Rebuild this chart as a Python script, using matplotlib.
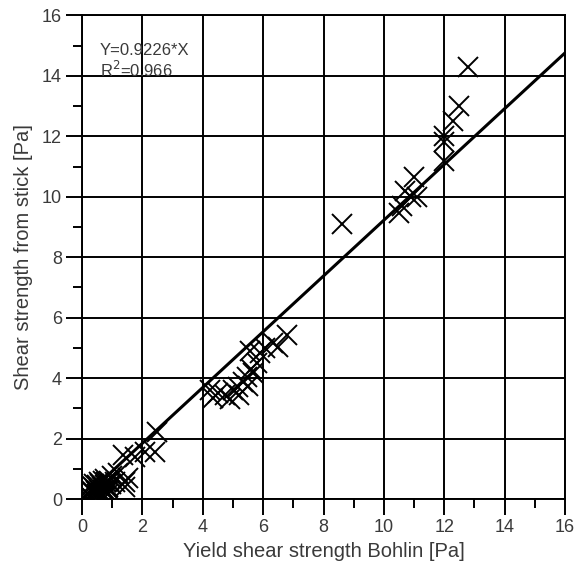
import numpy as np
import matplotlib.pyplot as plt
from matplotlib.ticker import MultipleLocator

# Yield shear strength (Bohlin) vs shear strength from stick
bohlin = [
    12.8, 8.6, 12.5, 12.3, 12.0, 12.0, 12.0, 11.0, 10.7, 10.9, 11.1, 10.5, 10.6,
    4.35, 4.24, 4.5, 4.73, 5.0, 5.17, 5.33, 5.46, 5.67, 5.8, 5.9, 6.06, 6.33, 6.5,
    6.8, 5.56, 5.2, 4.9, 5.5, 5.6,
    2.47, 2.42, 2.09, 1.76, 1.37, 1.42, 1.42, 1.53, 1.2, 1.1, 1.0,
    0.15, 0.2, 0.25, 0.3, 0.35, 0.4, 0.45, 0.5, 0.5, 0.55, 0.6, 0.6, 0.65, 0.7,
    0.7, 0.75, 0.8, 0.8, 0.85, 0.9, 0.9, 0.95, 0.4, 0.3, 0.65, 0.55, 0.75, 0.85,
]
stick = [
    14.3, 9.1, 13.0, 12.5, 12.0, 11.8, 11.2, 10.65, 10.2, 10.0, 10.0, 9.45, 9.7,
    3.33, 3.6, 3.5, 3.44, 3.6, 3.7, 3.87, 4.04, 4.17, 4.5, 4.83, 5.0, 5.16, 5.04,
    5.43, 4.9, 3.45, 3.3, 3.75, 4.3,
    2.23, 1.57, 1.57, 1.4, 1.46, 0.57, 0.41, 0.69, 0.86, 0.57, 0.75,
    0.05, 0.15, 0.1, 0.3, 0.2, 0.35, 0.25, 0.45, 0.15, 0.3, 0.5, 0.2, 0.4, 0.6,
    0.3, 0.45, 0.55, 0.25, 0.4, 0.6, 0.3, 0.5, 0.5, 0.45, 0.1, 0.55, 0.65, 0.15,
]
slope = 0.9226
r2 = 0.966

txt = '#3a3a3a'
plt.rcParams['font.family'] = 'Liberation Sans'

fig = plt.figure(figsize=(5.78, 5.67), dpi=100)
ax = fig.add_axes([0.1419, 0.1199, 0.9775 - 0.1419, 0.9727 - 0.1199])

ax.plot(bohlin, stick, 'x', color='black', markersize=14, mew=1.4)
xl = np.array([0, 16])
ax.plot(xl, slope * xl, color='black', lw=2.2)

ax.set_xlim(0, 16)
ax.set_ylim(0, 16)
ax.xaxis.set_major_locator(MultipleLocator(2))
ax.yaxis.set_major_locator(MultipleLocator(2))
ax.xaxis.set_minor_locator(MultipleLocator(1))
ax.yaxis.set_minor_locator(MultipleLocator(1))
ax.grid(True, which='major', color='black', lw=1.4)
ax.tick_params(which='major', length=11.5, width=1.4, labelsize=13, labelcolor=txt, pad=3)
ax.tick_params(which='minor', length=6.5, width=1.4)
for s in ax.spines.values():
    s.set_linewidth(1.4)

ax.set_xlabel('Yield shear strength Bohlin [Pa]', fontsize=14.5, color=txt, labelpad=4)
ax.set_ylabel('Shear strength from stick [Pa]', fontsize=14.5, color=txt, labelpad=6)

ax.text(0.6, 14.7, f'Y={slope}*X', fontsize=12, color=txt, va='baseline')
ax.text(0.6, 13.97, f'R$^2$={r2}', fontsize=12, color=txt, va='baseline')

fig.savefig('out.png', dpi=100)
